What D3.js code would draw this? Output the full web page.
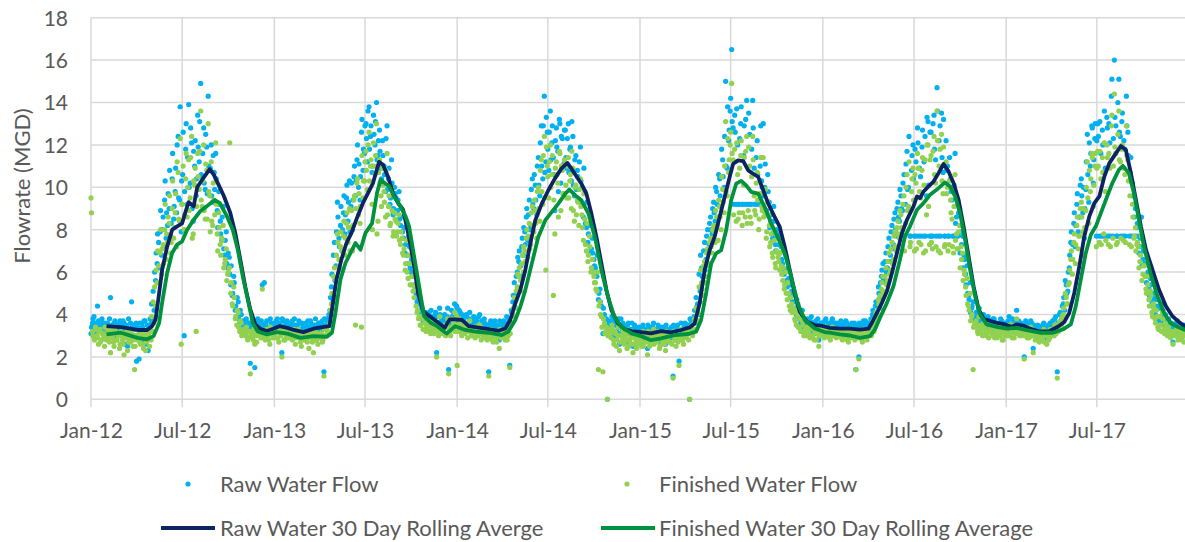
<!DOCTYPE html>
<html>
<head>
<meta charset="utf-8">
<script src="https://cdn.jsdelivr.net/npm/d3@7"></script>
<style>
  html, body { margin: 0; padding: 0; background: #fff; }
  svg { display: block; font-family: Lato, "Open Sans", sans-serif; }
</style>
</head>
<body>
<svg id="chart" width="1185" height="542"></svg>
<script>
// ---------------- DATA ----------------
// Flow samples (MGD). Set "a": every 3rd day from Jan 1; set "b": every 3rd day from Jan 2.
const raw2012 = [3.1,3.6,3.9,3.4,3.2,3.7,3.5,3.3,3.6,3.5,3.4, 3.6,3.2,4.8,3.5,3.3,3.7,3.4,3.0,3.6, 3.5,3.3,3.6,2.6,3.4,3.8,3.2,4.6,3.5,3.3,3.6, 3.4,1.9,3.3,3.6,2.8,3.7,3.2,2.3,3.5,3.6, 3.8,4.2,5.6,6.4,7.4,7.9,6.8,8.6,9.4,7.6, 8.2,9.0,7.7,10.4,8.5,9.8,8.8,12.4,9.4,7.9, 10.6,3.0,11.8,9.2,13.9,10.2,12.1,8.4,11.0,9.6,13.4, 11.2,14.9,10.5,12.8,9.9,11.9,14.3,10.8,12.0,9.3, 10.7,11.6,8.9,9.8,8.4,7.5,9.1,6.8,7.9,6.2, 6.7,5.4,4.9,5.8,4.2,3.9,4.6,3.6,4.0,3.5, 3.7,3.4,3.3,3.6,1.7,3.5,3.2,1.5,3.4,3.8, 3.6,3.3,5.4,3.5,3.2,3.7,3.4,3.1,3.6,3.5];
const fin2012 = [9.5,3.2,2.9,3.4,3.0,2.6,3.3,2.8,3.1,2.5,3.0, 3.3,2.9,2.2,3.1,2.7,3.4,2.8,3.0,2.4, 3.2,2.8,2.1,3.0,3.3,2.7,2.9,3.1,2.5,1.4,3.0, 2.8,3.2,2.6,2.9,2.4,3.1,2.7,3.0,2.5,2.8, 3.2,3.6,4.4,5.5,6.3,6.9,5.9,7.3,8.0,6.6, 7.4,8.3,6.9,9.0,7.6,8.8,7.2,10.7,8.4,2.6, 9.2,8.0,10.4,8.6,11.3,9.5,12.4,7.8,10.1,3.2,11.6, 9.9,13.6,9.1,12.0,8.5,10.8,13.0,9.6,11.2,8.2, 9.4,12.1,7.8,8.8,7.3,7.6,8.2,6.4,7.1,5.9, 6.2,5.0,4.5,5.3,3.8,3.5,4.1,3.2,3.6,3.1, 3.3,3.0,2.9,3.2,1.2,3.1,2.8,2.6,3.0,3.4, 3.2,2.9,5.2,3.1,2.8,3.3,3.0,2.6,3.2,3.1];
const raw2013 = [3.6,3.4,3.8,3.2,3.5,2.2,3.7,3.3,3.6,3.4,3.5, 3.3,3.7,3.2,3.5,3.4,3.0,3.6,3.3,3.5, 3.2,3.6,3.4,3.1,3.7,3.3,2.8,3.5,3.4,3.2,3.6, 3.4,3.7,1.3,3.5,3.8,3.6,4.2,5.3,4.6,7.4, 6.3,9.3,7.6,8.2,7.0,8.8,7.8,9.5,8.4,10.3, 9.1,8.0,10.5,9.6,11.3,10.0,9.4,12.6,10.8,11.6, 13.0,11.2,13.8,12.4,10.7,13.4,12.0,14.0,11.5,12.7,10.9, 12.2,11.0,9.8,12.9,10.4,9.2,11.3,8.7,10.0,9.5, 8.9,9.8,8.2,8.6,7.6,6.9,8.4,6.4,7.2,6.0, 6.5,5.4,6.1,4.6,4.2,3.9,4.4,3.7,4.0,3.6, 3.8,4.1,3.5,3.9,3.7,4.0,2.2,3.6,4.3,3.7, 3.5,3.8,3.4,3.9,1.4,3.6,4.2,3.7,4.5,3.9];
const fin2013 = [3.2,2.9,3.3,2.7,3.1,2.0,3.2,2.8,3.0,3.3,2.9, 3.1,2.8,3.2,2.6,3.0,3.3,2.9,2.5,3.1, 2.8,3.1,2.7,2.4,3.0,2.9,2.2,3.2,2.8,2.6,3.0, 3.1,2.7,1.1,3.0,3.3,3.1,3.6,4.5,4.0,6.2, 5.6,7.8,6.6,7.2,6.1,7.7,6.8,8.3,7.4,9.0, 8.1,7.0,9.4,3.5,10.2,8.7,8.3,3.4,9.5,10.3, 11.7,9.9,12.6,11.0,9.2,12.1,10.6,13.0,8.4,11.3,9.6, 10.9,9.8,8.6,11.6,9.1,8.2,10.0,7.7,8.8,8.4, 7.9,8.7,7.3,7.6,6.8,6.1,7.5,5.7,6.4,5.4, 5.8,4.8,5.4,4.1,3.8,3.5,3.9,3.3,3.6,3.2, 3.4,3.7,3.1,3.5,3.3,3.6,2.0,3.2,3.9,3.3, 3.1,3.4,3.0,3.5,1.2,3.2,3.8,3.3,4.1,3.5];
const raw2014 = [4.3,3.7,4.1,3.5,3.9,3.6,4.0,3.4,3.8,3.6,3.5, 3.9,3.4,3.7,3.5,4.0,3.3,3.6,3.8,3.4, 3.2,1.3,3.6,3.4,3.1,3.7,3.3,3.5,2.8,3.6,3.4, 3.7,3.3,3.9,3.5,1.6,4.2,4.6,5.5,4.9,6.0, 6.5,5.8,7.2,6.8,7.9,8.6,7.5,9.4,8.2,10.4, 9.0,10.1,8.7,11.4,9.6,12.9,10.4,14.3,11.2,12.6, 10.8,13.6,12.1,11.4,8.9,12.8,11.7,13.2,10.2,12.3,11.1, 12.7,10.9,13.0,11.8,10.3,12.4,9.6,11.5,10.8,9.4, 11.9,10.0,8.6,9.8,8.1,7.4,8.8,6.9,7.6,6.6, 6.2,5.8,4.7,5.2,4.4,3.1,4.0,3.6,0.0,3.7, 3.5,3.9,3.2,3.6,2.9,3.4,2.6,3.8,3.3,3.1, 3.4,2.7,3.6,3.1,3.3,2.5,3.5,3.2,2.9,3.4];
const fin2014 = [1.6,3.2,3.6,3.0,3.4,3.1,3.5,2.9,3.3,3.2,3.0, 3.4,2.9,3.2,3.0,3.5,2.8,3.1,3.3,2.9, 2.8,1.1,3.1,3.0,2.7,3.2,2.9,3.1,2.4,3.2,3.0, 3.2,2.8,3.4,3.0,1.5,3.6,4.0,4.8,4.3,5.3, 5.8,5.1,6.4,6.0,7.0,7.6,6.7,8.3,7.3,9.1, 7.9,8.9,7.6,10.0,8.4,11.3,9.2,12.4,6.1,11.0, 9.5,12.0,10.6,4.9,7.8,11.2,10.2,11.7,8.9,10.8,9.7, 11.1,9.5,11.4,10.3,9.0,10.9,8.4,10.1,9.4,8.2, 10.4,8.7,7.5,8.5,7.0,6.5,7.7,6.0,6.6,5.8, 5.5,5.1,1.4,4.6,3.9,1.3,3.6,3.2,0.0,3.3, 3.1,3.5,2.8,3.2,2.5,3.0,2.3,3.4,2.9,2.7, 3.0,2.4,3.2,2.7,2.9,2.2,3.1,2.8,2.6,3.0];
const raw2015 = [3.3,2.8,3.5,3.0,3.2,2.4,3.4,2.9,3.1,3.6,3.0, 3.2,3.5,2.7,3.3,3.0,3.4,2.6,3.1,3.3, 3.0,3.4,1.1,3.2,2.8,3.5,1.8,3.1,3.3,2.9,3.6, 3.2,3.5,0.0,3.7,3.3,3.9,3.6,4.4,4.0,5.1, 6.2,5.5,7.4,6.6,8.0,7.3,8.6,7.8,9.3,8.4, 9.8,8.6,10.4,9.1,11.3,10.0,15.0,10.9,12.2,13.6, 16.5,12.8,13.4,9.2,12.0,9.2,13.0,9.2,11.5,9.2,14.1, 9.2,12.5,9.2,14.1,10.9,9.2,12.2,9.2,11.0,10.3, 13.0,10.0,8.7,10.6,9.3,8.4,7.8,9.1,7.3,8.0, 7.6,6.9,7.2,6.4,5.9,6.8,5.3,5.7,4.8,5.1, 4.9,4.3,4.0,4.5,3.9,3.6,4.2,3.4,3.7,3.5, 3.6,3.3,3.9,3.4,3.2,3.7,3.5,2.8,3.4,3.6];
const fin2015 = [3.0,2.5,3.2,2.7,2.9,2.1,3.1,2.6,2.8,3.3,2.7, 2.9,3.2,2.4,3.0,2.7,3.1,2.3,2.8,3.0, 2.7,3.1,1.0,2.9,2.5,3.2,1.6,2.8,3.0,2.6,3.3, 2.9,3.2,0.0,3.4,3.0,3.6,3.3,4.0,3.7,4.6, 5.5,4.9,6.5,5.8,7.1,6.4,7.6,6.9,8.2,7.4, 8.6,7.5,9.1,8.0,9.9,8.8,13.1,9.6,10.7,12.0, 14.9,11.3,11.8,8.4,10.6,8.8,11.5,8.2,10.1,8.6,12.4, 8.9,11.0,8.3,12.4,9.6,8.7,10.7,8.0,9.7,9.1, 11.4,8.8,7.6,9.3,8.2,7.4,6.9,8.0,6.4,7.0, 6.7,6.1,6.3,5.6,5.2,6.0,4.7,5.0,4.2,4.5, 4.3,3.8,3.5,4.0,3.4,3.2,3.7,3.0,3.3,3.1, 3.2,2.9,3.5,3.0,2.8,3.3,3.1,2.5,3.0,3.2];
const raw2016 = [3.6,3.3,3.8,3.4,3.5,3.2,3.7,3.4,3.6,3.3,3.5, 3.4,3.7,3.2,3.5,3.3,3.6,3.1,3.4,3.5, 3.3,3.6,1.4,3.4,2.0,3.5,3.2,3.7,3.4,3.3,3.6, 3.5,3.8,4.0,3.6,4.4,4.1,5.3,4.8,5.8,6.4, 5.6,6.9,6.2,7.6,6.8,8.2,7.3,8.8,7.7,9.3, 8.4,9.6,8.9,10.6,9.2,11.7,10.0,7.7,10.8,12.0, 7.7,11.2,12.8,7.7,10.5,11.9,7.7,12.4,9.6,13.1,7.7, 12.6,7.7,13.4,11.3,14.7,7.7,12.9,13.5,10.7,7.7, 12.2,11.0,7.7,10.4,9.4,7.7,11.6,8.6,7.7,9.0, 7.9,7.7,6.8,5.9,6.3,4.9,5.5,4.3,4.6,3.9, 4.1,3.6,4.3,3.8,3.5,4.0,3.7,3.4,3.9,3.6, 3.7,3.4,3.8,3.5,3.3,3.6,3.4,3.7,3.2,3.5];
const fin2016 = [3.2,2.9,3.4,3.0,3.1,2.8,3.3,3.0,3.2,2.9,3.1, 3.0,3.3,2.8,3.1,2.9,3.2,2.7,3.0,3.1, 2.9,3.2,1.4,3.0,1.9,3.1,2.8,3.3,3.0,2.9,3.2, 3.1,3.4,3.6,3.2,3.9,3.7,4.7,4.3,5.2,5.8, 5.0,6.2,5.6,6.9,6.1,7.4,6.6,7.9,7.0,8.4, 7.6,8.7,8.0,9.6,8.3,10.6,9.1,7.2,9.8,10.9, 7.0,10.2,11.6,7.4,9.5,10.8,6.9,11.3,8.7,12.0,7.3, 11.5,7.1,12.4,10.2,13.6,7.0,11.8,12.5,9.7,7.2, 11.2,10.0,7.3,9.4,8.5,6.9,10.6,7.8,7.1,8.2, 7.2,6.9,6.1,5.3,5.7,4.4,5.0,3.9,1.4,3.5, 3.7,3.2,3.9,3.4,3.1,3.6,3.3,3.0,3.5,3.2, 3.3,3.0,3.4,3.1,2.9,3.2,3.0,3.3,2.8,3.1];
const raw2017 = [3.6,3.3,3.9,3.5,3.2,3.7,3.4,4.2,3.5,3.3,3.6, 3.4,2.0,3.7,3.2,3.5,3.3,3.6,2.4,3.4, 3.2,3.5,3.0,3.4,3.1,3.6,3.3,2.9,3.5,3.2,3.4, 3.7,3.3,3.9,1.3,3.6,4.1,3.8,4.5,4.2,5.4, 5.1,6.2,7.4,6.6,8.3,7.2,9.2,7.9,8.6,10.4, 8.8,7.6,9.9,12.5,9.3,11.0,12.9,10.2,12.3,7.7, 13.0,7.7,11.6,12.7,7.7,10.9,13.3,7.7,12.1,14.3,7.7, 16.0,12.9,7.7,15.1,12.4,13.1,7.7,11.8,14.3,12.6, 7.7,11.4,10.2,7.7,9.0,8.1,7.7,7.2,8.6,6.6, 7.0,5.8,6.4,5.2,5.7,4.6,5.0,4.2,4.7,3.8, 4.3,3.9,4.5,3.7,4.0,3.5,3.8,3.4,3.6,2.7, 3.5,3.3,3.7,3.2,3.4,3.1,3.5,3.3,3.0,3.2];
const fin2017 = [3.3,3.0,3.5,3.1,2.9,3.4,3.1,3.8,3.2,3.0,3.3, 3.1,1.9,3.4,2.9,3.2,3.0,3.3,2.2,3.1, 2.9,3.2,2.7,3.1,2.8,3.3,3.0,2.6,3.2,2.9,3.1, 3.3,3.0,3.5,1.0,3.2,3.7,3.4,4.0,3.8,4.8, 4.5,5.5,6.6,5.9,7.4,6.4,8.2,7.1,7.7,9.3, 7.9,6.8,8.9,11.2,8.3,9.8,11.6,9.1,11.0,7.2, 11.7,7.4,10.4,11.4,7.8,9.8,12.0,7.3,10.9,12.9,7.6, 14.4,11.6,7.4,13.6,11.2,11.8,7.5,10.6,12.9,11.3, 7.3,10.3,9.2,7.6,8.1,7.3,7.2,6.5,7.7,5.9, 6.3,5.2,5.8,4.7,5.1,4.1,4.5,3.8,4.2,3.4, 3.9,3.5,4.1,3.3,3.6,3.1,3.4,3.0,3.2,2.6, 3.2,3.0,3.4,2.9,3.1,2.8,3.2,3.0,2.7,2.9];

const raw2012b = [3.4,3.8,3.2,3.6,4.4,3.3,3.5,3.8,3.1,3.6,3.3, 3.5,3.8,3.1,3.4,3.6,2.9,3.5,3.3,3.7, 3.4,3.7,3.1,3.5,2.5,3.3,3.6,3.4,3.0,3.5,1.8, 3.3,3.6,3.0,3.4,3.7,2.6,3.5,3.4,3.8,4.5, 5.1,6.0,6.9,7.8,6.2,8.9,8.0,7.2,10.3,8.8, 9.7,10.8,8.3,11.6,9.1,10.9,12.0,9.5,13.8,10.3, 12.6,9.8,13.0,11.4,10.0,12.8,9.0,11.7,12.2,10.4,11.9, 13.1,10.6,11.6,10.2,12.5,9.7,11.0,10.9,9.6,11.5, 9.9,10.4,8.1,9.2,7.8,8.6,7.1,7.5,6.4,6.9, 5.9,6.3,5.0,5.5,4.4,4.8,3.8,4.2,3.4,3.7, 3.5,3.8,3.2,3.6,3.4,3.3,3.7,3.5,3.1,3.6, 3.4,3.7,3.3,5.5,3.6,3.4,3.2,3.8,3.5,3.3];
const fin2012b = [8.8,3.0,2.8,3.3,2.9,3.2,2.7,3.1,2.9,3.4,2.8, 3.1,2.7,3.3,2.9,2.5,3.2,2.8,3.0,2.6, 3.0,2.6,3.1,2.9,2.3,3.2,2.7,3.0,2.8,2.5,2.9, 3.0,2.7,3.1,2.6,2.9,2.3,2.8,3.1,3.3,3.9, 4.6,5.3,6.1,7.0,5.5,8.0,7.1,6.4,9.2,7.8, 8.6,9.6,7.4,10.3,8.1,9.7,11.2,8.5,12.3,9.2, 11.0,8.7,11.6,10.0,8.9,11.4,7.6,10.3,10.9,9.1,10.5, 11.7,9.4,10.3,8.9,11.1,8.5,9.8,7.9,8.4,10.2, 8.7,9.2,7.0,8.1,6.8,7.5,6.2,6.6,5.6,6.0, 12.1,5.5,4.4,4.8,3.9,4.2,3.4,3.7,3.0,3.3, 3.1,3.4,2.8,3.2,3.0,2.9,3.3,3.1,2.7,3.2, 3.0,3.3,2.9,3.1,3.2,3.0,2.8,3.4,3.1,2.9];
const raw2013b = [3.5,3.7,3.3,3.6,3.4,3.8,3.2,3.5,3.7,3.3,3.6, 3.6,3.4,3.8,3.3,3.5,3.7,3.2,3.6,3.4, 3.5,3.3,3.7,3.4,3.6,3.2,3.5,3.8,3.3,3.6,3.4, 3.6,3.3,3.8,3.5,3.7,4.0,4.8,5.9,6.8,5.6, 7.9,8.6,7.2,9.1,8.0,9.6,8.7,10.1,9.3,7.9, 10.2,9.4,11.0,10.3,12.0,11.1,10.5,13.2,11.8,12.9, 12.3,13.6,11.8,12.9,11.0,12.5,13.1,11.3,12.2,11.7,10.4, 11.5,10.6,12.3,9.9,10.9,9.5,10.2,9.0,9.7,8.8, 9.4,8.5,9.0,7.9,8.1,7.3,6.8,7.7,6.2,6.6, 5.8,6.0,5.0,4.8,4.5,4.0,4.3,3.8,4.1,3.9, 4.0,3.7,4.2,3.8,3.6,4.1,3.9,3.5,4.0,3.8, 3.7,4.0,3.6,4.3,3.8,3.5,3.9,4.1,3.7,4.4];
const fin2013b = [3.1,3.3,2.9,3.2,3.0,3.4,2.8,3.1,3.3,2.9,3.2, 3.2,3.0,3.3,2.9,3.1,3.2,2.7,3.1,3.0, 3.0,2.8,3.2,2.9,3.1,2.7,3.0,3.3,2.8,3.1,2.9, 3.1,2.8,3.3,3.0,3.2,3.5,4.2,5.0,5.8,4.8, 6.8,7.4,6.3,7.9,7.0,8.4,7.6,8.8,8.1,7.0, 8.9,8.2,9.6,9.0,10.4,9.7,9.1,11.5,10.3,11.2, 10.8,12.0,10.3,11.3,8.0,11.0,11.5,7.8,10.7,10.2,9.1, 10.1,9.3,10.8,8.7,9.6,8.3,8.9,7.9,8.5,7.7, 8.3,7.5,7.9,6.9,7.1,6.4,6.0,6.8,5.4,5.8, 5.1,5.3,4.4,4.2,3.9,3.5,3.8,3.3,3.6,3.4, 3.5,3.2,3.7,3.3,3.1,3.6,3.4,3.0,3.5,3.3, 3.2,3.5,3.1,3.8,3.3,3.0,3.4,3.6,3.2,3.9];
const raw2014b = [3.9,4.2,3.6,4.0,3.7,3.5,3.9,3.6,4.1,3.4,3.7, 3.6,3.8,3.4,3.9,3.5,3.7,3.3,3.6,3.5, 3.5,3.3,3.7,3.2,3.6,3.4,3.1,3.5,3.7,3.3,3.5, 3.4,3.6,3.2,3.8,3.5,4.1,4.9,4.4,5.8,6.7, 7.0,6.3,7.6,8.1,7.3,9.0,8.7,8.0,9.9,9.2, 10.6,9.4,11.0,10.1,12.1,11.0,12.9,10.7,13.3,11.8, 12.6,11.3,12.9,10.6,12.2,11.9,9.8,13.0,12.4,11.0,12.7, 11.4,12.3,10.7,11.9,13.1,10.1,11.3,9.9,10.5,11.2, 10.3,9.2,10.9,8.3,9.3,7.8,8.2,7.1,6.9,6.3, 5.9,6.8,5.0,4.6,3.9,4.3,3.5,3.8,3.4,3.6, 3.3,3.7,3.0,3.5,3.2,3.8,3.1,3.4,3.6,3.0, 3.2,3.5,2.8,3.3,3.6,3.0,3.4,2.7,3.3,3.1];
const fin2014b = [3.5,3.8,3.2,3.6,3.3,3.1,3.5,3.2,3.7,3.0,3.3, 3.2,3.4,3.0,3.5,3.1,3.3,2.9,3.2,3.1, 3.1,2.9,3.3,2.8,3.2,3.0,2.7,3.1,3.3,2.9,3.1, 3.0,3.2,2.8,3.4,3.1,3.6,4.3,3.9,5.1,5.9, 6.2,5.6,6.8,7.2,6.5,8.0,7.7,7.1,8.8,8.2, 9.4,8.3,9.8,9.0,10.8,9.8,11.5,9.5,11.9,10.5, 11.2,10.0,11.5,9.4,10.9,10.6,8.6,11.6,11.0,9.7,11.3, 10.1,11.0,9.5,10.6,11.7,8.9,10.0,8.7,9.3,9.9, 9.1,8.1,9.7,7.3,8.3,6.8,7.2,6.2,6.0,5.5, 5.2,6.0,4.4,4.0,3.4,3.8,3.1,3.4,3.0,3.2, 2.9,3.3,2.6,3.1,2.8,3.4,2.7,3.0,3.2,2.6, 2.8,3.1,2.5,2.9,3.2,2.6,3.0,2.4,2.9,2.7];
const raw2015b = [3.1,3.4,2.7,3.3,3.0,3.5,2.8,3.2,3.4,2.9,3.3, 3.0,3.3,2.8,3.4,3.1,2.9,3.5,3.2,3.0, 3.3,2.9,3.5,3.1,3.4,3.0,3.2,3.6,3.1,3.4,3.3, 3.5,3.1,3.8,3.4,3.6,4.2,4.8,4.5,5.9,6.8, 5.8,7.0,6.1,7.7,7.0,8.3,8.0,9.0,8.8,10.0, 9.2,10.6,9.6,11.8,10.5,12.4,11.0,13.8,12.7,14.2, 13.1,9.2,12.6,13.7,9.2,12.3,13.8,9.2,12.9,13.2,9.2, 13.5,9.2,11.8,12.8,9.2,11.4,10.6,9.2,12.9,10.0, 9.6,11.1,8.9,9.8,8.1,8.7,7.6,8.4,7.0,7.7, 7.3,7.8,6.6,7.0,6.1,5.6,6.2,5.0,5.4,4.6, 4.6,4.1,4.7,3.8,4.2,3.5,3.9,3.6,3.3,3.8, 3.4,3.7,3.2,3.6,3.5,3.1,3.8,3.3,3.6,3.4];
const fin2015b = [2.8,3.1,2.5,3.0,2.7,3.2,2.5,2.9,3.1,2.6,3.0, 2.7,3.0,2.5,3.1,2.8,2.6,3.2,2.9,2.7, 3.0,2.6,3.2,2.8,3.1,2.7,2.9,3.3,2.8,3.1,3.0, 3.2,2.8,3.4,3.1,3.3,3.8,4.3,4.1,5.3,6.1, 5.2,6.3,5.5,6.9,6.3,7.4,7.2,8.0,7.9,8.9, 8.2,9.4,8.6,10.5,9.3,11.0,9.8,12.3,11.3,12.6, 11.6,8.7,11.2,12.1,8.5,10.9,12.2,8.8,11.4,11.7,8.3, 11.9,8.6,10.5,11.3,8.9,10.2,9.4,8.5,11.4,8.9, 8.6,9.9,7.9,8.7,7.2,7.8,6.7,7.5,6.2,6.9, 6.5,6.9,5.9,6.2,5.4,5.0,5.5,4.4,4.8,4.1, 4.1,3.7,4.2,3.4,3.8,3.2,3.5,3.2,3.0,3.4, 3.1,3.4,2.9,3.3,3.2,2.8,3.4,3.0,3.3,3.1];
const raw2016b = [3.4,3.7,3.3,3.6,3.2,3.5,3.8,3.3,3.5,3.6,3.4, 3.5,3.3,3.6,3.4,3.7,3.2,3.5,3.3,3.6, 3.4,3.2,3.5,3.3,3.6,3.4,3.1,3.5,3.7,3.2,3.4, 3.6,3.4,4.2,3.9,4.6,4.4,5.0,5.5,6.1,5.7, 6.5,6.0,7.2,6.5,7.9,7.1,8.5,8.0,9.0,8.6, 9.9,9.0,10.2,7.7,11.1,9.9,12.4,7.7,11.5,10.4, 11.8,7.7,12.1,10.9,7.7,12.7,11.2,7.7,13.3,10.1,12.6, 7.7,13.0,11.8,7.7,13.6,12.2,7.7,11.4,13.2,7.7, 10.8,7.7,11.4,9.8,7.7,10.1,8.3,7.7,8.8,6.9, 7.3,6.2,6.6,5.4,5.0,4.7,4.1,4.4,3.8,4.0, 3.8,3.5,3.9,3.7,3.4,3.8,3.5,3.6,3.3,3.7, 3.5,3.8,3.3,3.6,3.4,3.5,3.8,3.2,3.6,3.4];
const fin2016b = [3.1,3.3,3.0,3.2,2.9,3.1,3.4,3.0,3.1,3.2,3.0, 3.1,2.9,3.2,3.0,3.3,2.8,3.1,2.9,3.2, 3.0,2.8,3.1,2.9,3.2,3.0,2.7,3.1,3.3,2.8,3.0, 3.2,3.0,3.7,3.5,4.1,3.9,4.5,4.9,5.5,5.1, 5.8,5.4,6.5,5.9,7.1,6.4,7.7,7.2,8.1,7.8, 8.9,8.1,9.2,7.0,10.0,8.9,11.2,7.4,10.4,9.4, 10.6,7.1,10.9,9.8,7.3,11.4,10.1,7.0,12.0,9.1,11.3, 7.4,11.7,10.6,7.2,12.2,11.0,6.9,10.3,11.9,7.3, 9.7,7.0,10.3,8.8,7.2,9.1,7.5,7.1,7.9,6.2, 6.6,5.6,5.9,4.9,4.5,4.2,3.7,4.0,3.4,3.6, 3.4,3.1,3.5,3.3,3.0,3.4,3.1,3.2,2.9,3.3, 3.1,3.4,2.9,3.2,3.0,3.1,3.4,2.8,3.2,3.0];
const raw2017b = [3.4,3.7,3.3,3.5,3.8,3.2,3.6,3.4,3.7,3.5,3.3, 3.5,3.3,3.6,3.4,3.2,3.7,3.3,3.5,3.1, 3.3,3.1,3.4,3.2,3.5,3.0,3.3,3.4,3.1,3.6,3.3, 3.5,3.8,3.4,3.6,4.0,3.7,4.4,4.8,5.6,5.0, 6.0,6.8,7.9,7.3,8.8,8.2,9.7,8.6,10.1,9.6, 10.0,9.0,11.2,10.6,12.1,11.6,12.8,11.3,13.0,12.2, 12.4,13.1,7.7,12.0,13.6,7.7,12.8,13.0,7.7,15.1,12.3, 13.3,7.7,14.0,12.6,7.7,13.5,12.2,7.7,12.9,11.5, 10.7,7.7,9.6,8.6,7.7,8.3,6.9,7.6,6.3,7.0, 6.4,5.5,6.0,4.9,5.4,4.4,4.8,4.0,4.4,3.7, 3.9,3.6,4.2,3.5,3.8,3.3,3.6,3.2,3.5,3.4, 3.3,3.6,3.1,3.5,3.2,3.4,3.0,3.3,3.5,3.1];
const fin2017b = [3.1,3.4,3.0,3.2,3.5,2.9,3.3,3.1,3.4,3.2,3.0, 3.2,3.0,3.3,3.1,2.9,3.4,3.0,3.2,2.8, 3.0,2.8,3.1,2.9,3.2,2.7,3.0,3.1,2.8,3.3,3.0, 3.2,3.5,3.1,3.3,3.6,3.4,3.9,4.3,5.0,4.5, 5.4,6.1,7.0,6.6,7.8,7.3,8.6,7.7,9.0,8.6, 9.0,8.1,10.0,9.5,10.8,10.4,11.4,10.1,11.6,10.9, 11.0,11.7,7.3,10.7,12.1,7.5,11.4,11.6,7.2,13.4,11.0, 11.9,7.3,12.5,11.3,7.6,12.0,10.9,7.4,11.5,10.3, 9.6,7.2,8.6,7.7,7.0,7.4,6.2,6.8,5.6,6.3, 5.8,5.0,5.4,4.4,4.9,3.9,4.3,3.6,3.9,3.3, 3.5,3.2,3.8,3.1,3.4,3.0,3.2,2.9,3.1,3.0, 3.0,3.3,2.8,3.2,2.9,3.1,2.7,3.0,3.2,2.8];

const years = [2012, 2013, 2014, 2015, 2016, 2017];
const rawSets = [
  { offsetDays: 0, arrays: [raw2012, raw2013, raw2014, raw2015, raw2016, raw2017] },
  { offsetDays: 1, arrays: [raw2012b, raw2013b, raw2014b, raw2015b, raw2016b, raw2017b] }
];
const finSets = [
  { offsetDays: 0, arrays: [fin2012, fin2013, fin2014, fin2015, fin2016, fin2017] },
  { offsetDays: 1, arrays: [fin2012b, fin2013b, fin2014b, fin2015b, fin2016b, fin2017b] }
];
const sampleStepDays = 3;

// 30-day rolling averages (date, MGD)
const rawAvgDates = ["2012-02-01","2012-03-01","2012-04-03","2012-04-22","2012-05-02","2012-05-09","2012-05-16","2012-05-22","2012-06-01","2012-06-11","2012-06-21","2012-07-01","2012-07-08","2012-07-14","2012-07-24","2012-07-31","2012-08-10","2012-08-25","2012-09-02","2012-09-12","2012-09-22","2012-10-05","2012-10-15","2012-10-25","2012-11-04","2012-11-14","2012-11-24","2012-12-04","2012-12-17","2012-12-30",
"2013-01-11","2013-01-27","2013-02-09","2013-02-28","2013-03-20","2013-04-10","2013-04-21","2013-04-29","2013-05-05","2013-05-15","2013-05-25","2013-06-04","2013-06-14","2013-06-27","2013-07-07","2013-07-17","2013-07-29","2013-08-06","2013-08-16","2013-08-26","2013-09-05","2013-09-15","2013-09-25","2013-10-05","2013-10-15","2013-10-25","2013-11-07","2013-11-20","2013-12-07","2013-12-17","2013-12-28",
"2014-01-11","2014-01-24","2014-02-13","2014-03-05","2014-03-25","2014-04-07","2014-04-17","2014-04-27","2014-05-07","2014-05-17","2014-05-27","2014-06-06","2014-06-19","2014-07-02","2014-07-15","2014-07-28","2014-08-09","2014-08-17","2014-08-27","2014-09-06","2014-09-16","2014-09-26","2014-10-06","2014-10-16","2014-10-26","2014-11-05","2014-11-18","2014-12-02","2014-12-15",
"2015-01-03","2015-01-23","2015-02-12","2015-03-04","2015-03-24","2015-04-10","2015-04-20","2015-04-30","2015-05-10","2015-05-20","2015-05-30","2015-06-09","2015-06-19","2015-06-29","2015-07-06","2015-07-16","2015-07-26","2015-08-05","2015-08-15","2015-08-25","2015-09-04","2015-09-14","2015-09-27","2015-10-07","2015-10-17","2015-10-27","2015-11-06","2015-11-16","2015-11-30","2015-12-16","2015-12-27",
"2016-01-15","2016-02-04","2016-02-24","2016-03-15","2016-04-01","2016-04-08","2016-04-18","2016-04-28","2016-05-08","2016-05-18","2016-05-28","2016-06-07","2016-06-17","2016-06-30","2016-07-07","2016-07-13","2016-07-20","2016-07-30","2016-08-09","2016-08-19","2016-08-29","2016-09-08","2016-09-18","2016-09-28","2016-10-08","2016-10-18","2016-10-28","2016-11-07","2016-11-17","2016-12-01","2016-12-14","2016-12-30",
"2017-01-12","2017-01-22","2017-02-04","2017-02-17","2017-03-09","2017-03-29","2017-04-14","2017-04-27","2017-05-07","2017-05-17","2017-05-27","2017-06-06","2017-06-16","2017-06-26","2017-07-06","2017-07-16","2017-07-26","2017-08-08","2017-08-18","2017-08-28","2017-09-07","2017-09-17","2017-09-27","2017-10-07","2017-10-20","2017-11-02","2017-11-16","2017-11-29","2017-12-12","2017-12-22","2017-12-31"];
const rawAvgValues = [3.45,3.4,3.27,3.27,3.45,3.77,5.0,6.1,7.2,8.0,8.16,8.3,8.87,9.3,9.1,10.0,10.36,10.86,10.6,10.1,9.6,8.8,7.85,6.6,5.3,4.24,3.53,3.33,3.22,3.33,
3.45,3.37,3.27,3.17,3.33,3.42,3.45,4.7,5.65,6.6,7.37,7.85,8.5,9.26,9.73,10.2,11.2,11.06,10.5,9.73,9.26,8.95,7.85,6.6,5.0,4.16,3.92,3.69,3.37,3.77,3.77,
3.74,3.45,3.38,3.31,3.23,3.34,3.74,4.52,5.15,6.09,7.35,8.45,9.23,9.86,10.41,10.88,11.15,10.88,10.52,10.17,9.7,8.76,7.66,6.4,5.15,4.2,3.58,3.3,3.22,
3.17,3.11,3.22,3.16,3.27,3.39,3.58,4.52,6.09,7.03,7.66,8.6,9.54,10.49,11.11,11.27,11.24,10.8,10.64,10.49,9.86,9.23,8.6,8.13,7.19,6.09,4.99,4.13,3.66,3.5,3.48,
3.37,3.33,3.33,3.29,3.33,3.61,4.08,4.55,5.1,5.96,6.9,7.84,8.47,9.1,9.57,9.49,9.8,10.04,10.27,10.67,11.1,10.75,10.2,9.41,8.16,6.75,5.33,4.24,3.8,3.69,3.61,3.53,
3.42,3.53,3.48,3.33,3.2,3.22,3.42,3.64,4.08,5.02,6.27,7.69,8.63,9.25,9.57,10.51,11.14,11.6,11.95,11.76,10.67,9.41,8.16,7.06,6.12,5.18,4.39,3.92,3.64,3.48,3.4];

const finAvgDates = ["2012-02-01","2012-03-01","2012-04-03","2012-04-22","2012-05-05","2012-05-16","2012-05-22","2012-06-01","2012-06-11","2012-06-21","2012-07-01","2012-07-11","2012-07-24","2012-08-06","2012-08-19","2012-09-04","2012-09-14","2012-09-27","2012-10-10","2012-10-20","2012-10-30","2012-11-09","2012-11-19","2012-11-29","2012-12-17",
"2013-01-06","2013-01-27","2013-02-22","2013-03-20","2013-04-16","2013-04-26","2013-05-03","2013-05-13","2013-05-23","2013-06-02","2013-06-12","2013-06-22","2013-07-02","2013-07-15","2013-07-25","2013-08-01","2013-08-08","2013-08-18","2013-08-28","2013-09-10","2013-09-20","2013-09-27","2013-10-07","2013-10-17","2013-10-27","2013-11-09","2013-11-22","2013-12-11","2013-12-28",
"2014-01-17","2014-02-06","2014-03-05","2014-03-31","2014-04-13","2014-04-27","2014-05-07","2014-05-17","2014-05-30","2014-06-12","2014-06-26","2014-07-09","2014-07-22","2014-08-05","2014-08-13","2014-08-25","2014-09-06","2014-09-20","2014-10-03","2014-10-16","2014-10-29","2014-11-11","2014-11-25","2014-12-15",
"2015-01-03","2015-01-23","2015-02-12","2015-03-11","2015-04-07","2015-04-23","2015-05-03","2015-05-13","2015-05-23","2015-06-02","2015-06-12","2015-06-22","2015-07-02","2015-07-12","2015-07-22","2015-08-01","2015-08-11","2015-08-25","2015-09-07","2015-09-20","2015-10-03","2015-10-17","2015-10-30","2015-11-12","2015-11-26","2015-12-16",
"2016-01-04","2016-01-15","2016-02-04","2016-02-24","2016-03-15","2016-04-04","2016-04-14","2016-04-24","2016-05-08","2016-05-21","2016-06-03","2016-06-13","2016-06-23","2016-07-07","2016-07-20","2016-08-02","2016-08-15","2016-09-01","2016-09-11","2016-09-21","2016-10-01","2016-10-11","2016-10-21","2016-10-31","2016-11-10","2016-11-23","2016-12-13",
"2017-01-02","2017-01-22","2017-02-11","2017-03-09","2017-04-04","2017-04-24","2017-05-10","2017-05-20","2017-05-30","2017-06-09","2017-06-19","2017-06-29","2017-07-09","2017-07-19","2017-08-01","2017-08-14","2017-08-22","2017-09-03","2017-09-13","2017-09-23","2017-10-03","2017-10-16","2017-10-30","2017-11-12","2017-11-25","2017-12-09","2017-12-22","2017-12-31"];
const finAvgValues = [3.06,3.14,2.9,2.83,2.98,3.6,4.55,5.96,6.9,7.3,7.45,8.0,8.47,8.87,9.1,9.4,9.26,8.7,8.0,7.06,5.8,4.7,3.6,3.2,3.06,
3.17,3.1,2.9,2.98,2.95,3.14,4.08,5.65,6.43,6.9,7.37,7.06,7.85,8.3,9.73,10.36,10.23,10.05,9.57,9.1,8.63,8.16,6.75,5.34,3.92,3.61,3.45,3.1,3.45,
3.27,3.19,3.14,3.03,3.19,3.74,4.36,5.15,6.4,7.66,8.45,8.84,9.23,9.7,9.89,9.62,9.39,8.76,7.66,6.09,4.84,3.89,3.42,3.11,
2.98,2.79,2.87,3.03,3.08,3.19,3.74,4.99,6.4,6.88,7.03,7.97,9.39,10.17,10.3,10.09,9.78,9.7,9.07,8.29,7.66,6.88,5.78,4.52,3.74,3.34,
3.17,3.14,3.06,3.01,2.9,2.98,3.29,3.84,4.55,5.33,6.59,7.69,8.16,8.94,9.25,9.65,9.88,10.23,10.04,9.57,8.78,7.53,6.12,4.86,4.0,3.53,3.42,
3.33,3.37,3.26,3.14,3.14,3.29,3.53,4.39,5.65,6.9,7.76,8.16,8.78,9.41,10.2,10.82,11.01,10.67,9.73,8.47,7.22,5.96,4.86,4.08,3.61,3.42,3.29,3.25];

const yTicks = [0,2,4,6,8,10,12,14,16,18];
const xTickDates = ["2012-01-01","2012-07-01","2013-01-01","2013-07-01","2014-01-01","2014-07-01","2015-01-01","2015-07-01","2016-01-01","2016-07-01","2017-01-01","2017-07-01"];
const yAxisTitle = "Flowrate (MGD)";
const legendLabels = ["Raw Water Flow","Finished Water Flow","Raw Water 30 Day Rolling Averge","Finished Water 30 Day Rolling Average"];

// ---------------- CHART ----------------
const parse = d3.timeParse("%Y-%m-%d");
const svg = d3.select("#chart");
const gridColor = "#d9d9d9", textColor = "#595959";
const blue = "#00b0f0", lime = "#92d050", navy = "#0c2461", green = "#00923f";

const x = d3.scaleTime().domain([parse("2012-01-01"), parse("2018-01-01")]).range([91, 1189]);
const y = d3.scaleLinear().domain([0, 18]).range([399.3, 17.7]);

svg.append("g").selectAll("line").data(yTicks).join("line")
  .attr("x1", 91).attr("x2", 1189)
  .attr("y1", d => y(d)).attr("y2", d => y(d))
  .attr("stroke", gridColor).attr("stroke-width", 1.5);
svg.append("g").selectAll("line").data(xTickDates.map(parse)).join("line")
  .attr("x1", d => x(d)).attr("x2", d => x(d))
  .attr("y1", y(18)).attr("y2", y(0) + 8)
  .attr("stroke", gridColor).attr("stroke-width", 1.5);

const yAxis = d3.axisLeft(y).tickValues(yTicks).tickSize(0).tickPadding(0);
const gy = svg.append("g").attr("transform", "translate(68,0)").call(yAxis);
gy.select(".domain").remove();
gy.selectAll("text").attr("fill", textColor).style("font-size", "21px").style("font-family", "Lato, sans-serif").attr("dy", "0.35em");

const xAxis = d3.axisBottom(x).tickValues(xTickDates.map(parse)).tickFormat(d3.timeFormat("%b-%y")).tickSize(0).tickPadding(0);
const gx = svg.append("g").attr("transform", "translate(0,431)").call(xAxis);
gx.select(".domain").remove();
gx.selectAll("text").attr("fill", textColor).style("font-size", "21px").style("font-family", "Lato, sans-serif").attr("dy", "0.35em");

svg.append("text")
  .attr("transform", "translate(22,186) rotate(-90)")
  .attr("text-anchor", "middle").attr("dy", "0.35em")
  .attr("fill", textColor).style("font-size", "22px")
  .text(yAxisTitle);

function samples(sets) {
  const out = [];
  sets.forEach(set => set.arrays.forEach((arr, k) => {
    arr.forEach((v, i) => out.push({ d: d3.timeDay.offset(new Date(years[k], 0, 1), set.offsetDays + i * sampleStepDays), v }));
  }));
  return out;
}
const rawPts = samples(rawSets), finPts = samples(finSets);

svg.append("g").selectAll("circle").data(rawPts).join("circle")
  .attr("cx", d => x(d.d)).attr("cy", d => y(d.v)).attr("r", 2.6).attr("fill", blue);
svg.append("g").selectAll("circle").data(finPts).join("circle")
  .attr("cx", d => x(d.d)).attr("cy", d => y(d.v)).attr("r", 2.6).attr("fill", lime);

const line = d3.line().x(d => x(d.d)).y(d => y(d.v));
const rawAvg = rawAvgDates.map((s, i) => ({ d: parse(s), v: rawAvgValues[i] }));
const finAvg = finAvgDates.map((s, i) => ({ d: parse(s), v: finAvgValues[i] }));
svg.append("path").datum(rawAvg).attr("d", line).attr("fill", "none")
  .attr("stroke", navy).attr("stroke-width", 3.8).attr("stroke-linejoin", "round");
svg.append("path").datum(finAvg).attr("d", line).attr("fill", "none")
  .attr("stroke", green).attr("stroke-width", 3.8).attr("stroke-linejoin", "round");

const lg = svg.append("g").style("font-size", "22px").attr("fill", textColor);
lg.append("circle").attr("cx", 188).attr("cy", 484).attr("r", 2.6).attr("fill", blue);
lg.append("text").attr("x", 220).attr("y", 484).attr("dy", "0.35em").text(legendLabels[0]);
lg.append("circle").attr("cx", 627).attr("cy", 484).attr("r", 2.6).attr("fill", lime);
lg.append("text").attr("x", 659).attr("y", 484).attr("dy", "0.35em").text(legendLabels[1]);
lg.append("line").attr("x1", 161).attr("x2", 215).attr("y1", 528).attr("y2", 528).attr("stroke", navy).attr("stroke-width", 3.8);
lg.append("text").attr("x", 220).attr("y", 528).attr("dy", "0.35em").text(legendLabels[2]);
lg.append("line").attr("x1", 601).attr("x2", 655).attr("y1", 528).attr("y2", 528).attr("stroke", green).attr("stroke-width", 3.8);
lg.append("text").attr("x", 659).attr("y", 528).attr("dy", "0.35em").text(legendLabels[3]);
</script>
</body>
</html>
